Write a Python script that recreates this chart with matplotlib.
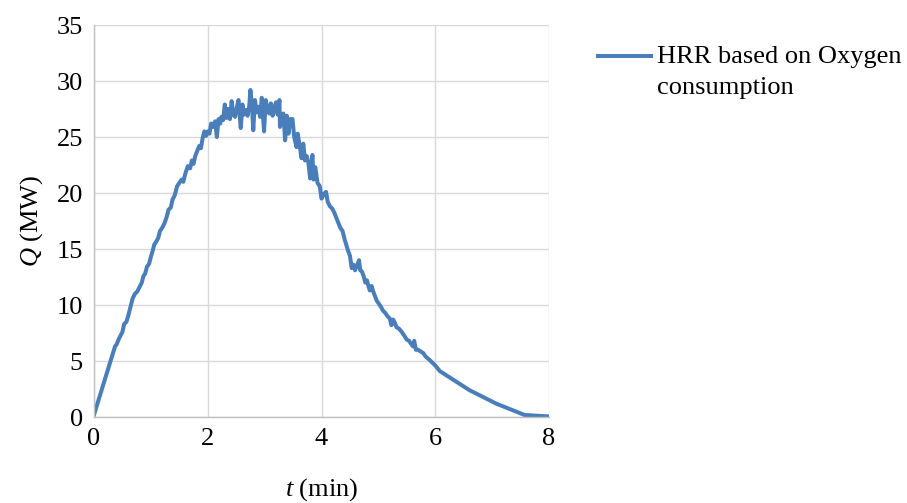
import matplotlib
matplotlib.use('Agg')
import matplotlib.pyplot as plt
from matplotlib.legend_handler import HandlerLine2D

plt.rcParams['font.family'] = ['Liberation Serif', 'DejaVu Serif']
plt.rcParams['mathtext.fontset'] = 'custom'
plt.rcParams['mathtext.rm'] = 'Liberation Serif'
plt.rcParams['mathtext.it'] = 'Liberation Serif:italic'

# time (min) and heat release rate (MW)
t_min = [0.00, 0.37, 0.40, 0.43, 0.46, 0.50, 0.53, 0.57, 0.60, 0.64, 0.68, 0.72, 0.76, 0.80,
         0.84, 0.87, 0.90, 0.93, 0.97, 1.00, 1.03, 1.06, 1.10, 1.13, 1.16, 1.20, 1.24, 1.28,
         1.31, 1.35, 1.38, 1.42, 1.46, 1.50, 1.54, 1.57, 1.61, 1.65, 1.69, 1.72, 1.75, 1.78,
         1.82, 1.85, 1.88, 1.91, 1.94, 1.97, 2.00, 2.03, 2.06, 2.09, 2.13, 2.16, 2.19, 2.22,
         2.24, 2.27, 2.30, 2.33, 2.36, 2.39, 2.42, 2.45, 2.48, 2.51, 2.54, 2.56, 2.58, 2.61,
         2.64, 2.67, 2.70, 2.73, 2.75, 2.78, 2.80, 2.83, 2.86, 2.89, 2.92, 2.95, 2.97, 2.99,
         3.02, 3.05, 3.08, 3.11, 3.14, 3.17, 3.20, 3.23, 3.26, 3.27, 3.30, 3.33, 3.36, 3.39,
         3.42, 3.45, 3.49, 3.52, 3.56, 3.58, 3.62, 3.65, 3.68, 3.71, 3.74, 3.77, 3.80, 3.84,
         3.86, 3.89, 3.93, 3.97, 4.00, 4.04, 4.08, 4.11, 4.15, 4.19, 4.22, 4.26, 4.30, 4.33,
         4.37, 4.41, 4.44, 4.47, 4.50, 4.53, 4.56, 4.59, 4.62, 4.66, 4.68, 4.71, 4.74, 4.77,
         4.80, 4.83, 4.85, 4.88, 4.91, 4.94, 4.97, 5.01, 5.05, 5.08, 5.12, 5.16, 5.20, 5.23,
         5.26, 5.29, 5.32, 5.36, 5.41, 5.45, 5.50, 5.54, 5.58, 5.61, 5.63, 5.66, 5.70, 5.73,
         5.76, 5.79, 5.83, 5.90, 6.00, 6.08, 6.60, 7.07, 7.57, 8.00]
q_mw = [0.2, 6.3, 6.5, 6.9, 7.2, 7.6, 8.3, 8.5, 9.0, 9.8, 10.6, 11.0, 11.2, 11.6,
        12.0, 12.6, 12.8, 13.4, 13.7, 14.3, 14.8, 15.4, 15.7, 16.0, 16.6, 16.9, 17.3, 17.9,
        18.5, 18.7, 19.4, 19.8, 20.6, 20.9, 21.2, 21.0, 21.8, 22.4, 22.2, 22.9, 22.6, 23.3,
        23.8, 24.2, 24.0, 24.9, 25.5, 25.1, 25.5, 25.3, 26.2, 25.9, 26.4, 25.0, 26.6, 26.2,
        26.8, 26.5, 27.9, 26.7, 27.5, 26.6, 28.2, 27.0, 26.8, 27.6, 28.3, 27.1, 25.8, 27.9,
        27.0, 27.4, 26.9, 27.8, 29.2, 27.6, 25.6, 28.3, 27.2, 27.7, 26.8, 28.5, 27.0, 25.5,
        28.3, 27.4, 27.1, 28.0, 26.9, 27.6, 28.1, 27.0, 28.3, 25.9, 26.8, 27.1, 24.7, 26.9,
        25.3, 26.6, 26.6, 25.0, 24.1, 25.3, 24.1, 23.1, 24.4, 22.9, 23.3, 22.7, 21.3, 23.4,
        21.2, 22.3, 20.9, 20.6, 19.5, 19.9, 20.1, 19.2, 18.8, 18.6, 18.3, 17.8, 17.3, 16.9,
        16.6, 15.8, 15.3, 14.8, 14.4, 13.3, 13.6, 13.1, 13.5, 14.0, 13.1, 13.0, 12.6, 12.0,
        12.2, 11.6, 11.3, 11.7, 11.2, 10.8, 10.4, 10.1, 9.8, 9.5, 9.3, 9.0, 8.8, 8.2,
        8.7, 8.4, 8.0, 7.9, 7.6, 7.3, 6.9, 6.8, 6.5, 6.3, 6.8, 6.0, 6.0, 5.9,
        5.8, 5.7, 5.4, 5.1, 4.6, 4.1, 2.4, 1.2, 0.18, 0.05]

x_ticks = [0, 2, 4, 6, 8]
y_ticks = [0, 5, 10, 15, 20, 25, 30, 35]
series_label = 'HRR based on Oxygen\nconsumption'


class FirstLineHandler(HandlerLine2D):
    # put the legend line level with the first line of a two-line label
    def create_artists(self, legend, orig_handle, xdescent, ydescent, width, height,
                       fontsize, trans):
        arts = super().create_artists(legend, orig_handle, xdescent, ydescent, width,
                                      height, fontsize, trans)
        for a in arts:
            a.set_ydata([y + 0.6 * fontsize for y in a.get_ydata()])
        return arts


fig = plt.figure(figsize=(9.07, 5.03), dpi=100)
ax = fig.add_axes([94 / 907, 1 - 417 / 503, 455 / 907, 392 / 503])

line, = ax.plot(t_min, q_mw, color='#4a7ebb', lw=2.9, label=series_label,
                solid_joinstyle='round')

ax.set_xlim(0, 8)
ax.set_ylim(0, 35)
ax.set_xticks(x_ticks)
ax.set_yticks(y_ticks)
ax.grid(True, color='#d9d9d9', lw=1)
ax.set_axisbelow(True)
ax.tick_params(length=0, labelsize=19, pad=8)
for s in ['top', 'right']:
    ax.spines[s].set_visible(False)
for s in ['left', 'bottom']:
    ax.spines[s].set_color('#bfbfbf')
    ax.spines[s].set_linewidth(1)

ax.set_xlabel(r'$t$ (min)', fontsize=19, labelpad=19)
ax.set_ylabel(r'$Q$ (MW)', fontsize=19, labelpad=8)

leg = ax.legend(loc='upper left', bbox_to_anchor=(598 / 907, 1 - 46 / 503),
                bbox_transform=fig.transFigure, frameon=False, fontsize=19,
                handlelength=2.0, handletextpad=0.22, borderaxespad=0, borderpad=0,
                handler_map={line: FirstLineHandler()})
leg.get_texts()[0].set_linespacing(1.5)

fig.savefig('out.png', dpi=100)
